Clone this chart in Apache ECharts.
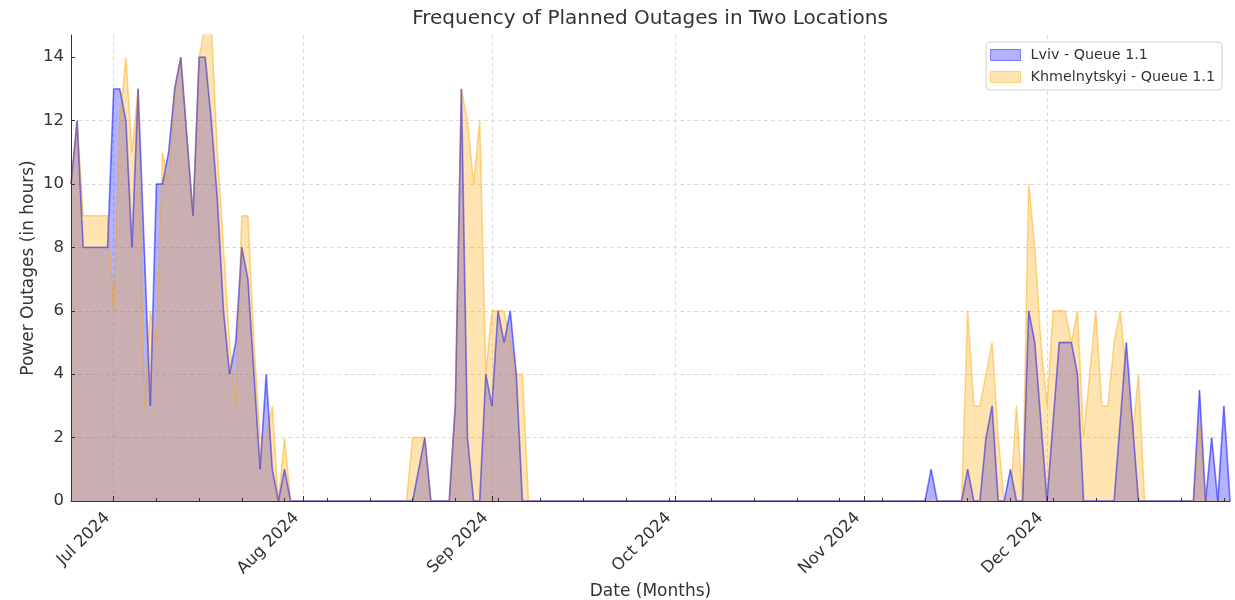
<!DOCTYPE html>
<html>
<head>
<meta charset="utf-8">
<title>Frequency of Planned Outages in Two Locations</title>
<script src="https://cdn.jsdelivr.net/npm/echarts@6/dist/echarts.min.js"></script>
<style>
  html, body { margin: 0; padding: 0; background: #ffffff; }
  #chart { width: 1235px; height: 600px; }
</style>
</head>
<body>
<div id="chart"></div>
<script>
// one value per day, first day is 2024-06-24, last is 2024-12-31
const startDay = [2024, 5, 24];

const lviv = [
  10, 12, 8, 8, 8, 8, 8, 13, 13, 12,
  8, 13, 8, 3, 10, 10, 11, 13, 14, 11.5,
  9, 14, 14, 12, 9.5, 6, 4, 5, 8, 7,
  4, 1, 4, 1, 0, 1, 0, 0, 0, 0,
  0, 0, 0, 0, 0, 0, 0, 0, 0, 0,
  0, 0, 0, 0, 0, 0, 0, 1, 2, 0,
  0, 0, 0, 3, 13, 2, 0, 0, 4, 3,
  6, 5, 6, 4, 0, 0, 0, 0, 0, 0,
  0, 0, 0, 0, 0, 0, 0, 0, 0, 0,
  0, 0, 0, 0, 0, 0, 0, 0, 0, 0,
  0, 0, 0, 0, 0, 0, 0, 0, 0, 0,
  0, 0, 0, 0, 0, 0, 0, 0, 0, 0,
  0, 0, 0, 0, 0, 0, 0, 0, 0, 0,
  0, 0, 0, 0, 0, 0, 0, 0, 0, 0,
  0, 1, 0, 0, 0, 0, 0, 1, 0, 0,
  2, 3, 0, 0, 1, 0, 0, 6, 5, 2.5,
  0, 2.5, 5, 5, 5, 4, 0, 0, 0, 0,
  0, 0, 2.5, 5, 2.5, 0, 0, 0, 0, 0,
  0, 0, 0, 0, 0, 3.5, 0, 2, 0, 3,
  0
];

const khmelnytskyi = [
  10, 12, 9, 9, 9, 9, 9, 6, 12, 14,
  11, 13, 3, 6, 5, 11, 10, 13, 14, 11.5,
  9, 14, 15, 15, 11, 8, 5, 3, 9, 9,
  5, 2, 2, 3, 0, 2, 0, 0, 0, 0,
  0, 0, 0, 0, 0, 0, 0, 0, 0, 0,
  0, 0, 0, 0, 0, 0, 2, 2, 2, 0,
  0, 0, 0, 3, 13, 12, 10, 12, 4, 6,
  6, 6, 5, 4, 4, 0, 0, 0, 0, 0,
  0, 0, 0, 0, 0, 0, 0, 0, 0, 0,
  0, 0, 0, 0, 0, 0, 0, 0, 0, 0,
  0, 0, 0, 0, 0, 0, 0, 0, 0, 0,
  0, 0, 0, 0, 0, 0, 0, 0, 0, 0,
  0, 0, 0, 0, 0, 0, 0, 0, 0, 0,
  0, 0, 0, 0, 0, 0, 0, 0, 0, 0,
  0, 0, 0, 0, 0, 0, 0, 6, 3, 3,
  4, 5, 2, 0, 0, 3, 0, 10, 8, 5,
  3, 6, 6, 6, 5, 6, 2, 4, 6, 3,
  3, 5, 6, 4, 2, 4, 0, 0, 0, 0,
  0, 0, 0, 0, 0, 2.5, 0, 0, 0, 0,
  0
];

const seriesNames = ['Lviv - Queue 1.1', 'Khmelnytskyi - Queue 1.1'];
const monthTicks = [[2024, 6, 1], [2024, 7, 1], [2024, 8, 1], [2024, 9, 1], [2024, 10, 1], [2024, 11, 1]];
const monthNames = ['Jan', 'Feb', 'Mar', 'Apr', 'May', 'Jun', 'Jul', 'Aug', 'Sep', 'Oct', 'Nov', 'Dec'];
const yTicks = [0, 2, 4, 6, 8, 10, 12, 14];
const yMax = 14.7;

const dayTs = i => new Date(startDay[0], startDay[1], startDay[2] + i).getTime();
const xMin = dayTs(0);
const xMax = dayTs(lviv.length - 1);
const monthTickValues = monthTicks.map(d => new Date(d[0], d[1], d[2]).getTime());
// minor ticks every monday
const weekTickValues = [];
for (let i = 0; i < lviv.length; i += 7) weekTickValues.push(dayTs(i));

const font = 'DejaVu Sans';
const textColor = '#333333';
const spine = '#333333';
const gridLine = { show: true, lineStyle: { color: '#dcdcdc', type: [4, 3], width: 1 } };

const chart = echarts.init(document.getElementById('chart'));

chart.setOption({
  animation: false,
  backgroundColor: '#ffffff',
  title: {
    text: 'Frequency of Planned Outages in Two Locations',
    left: 650,
    top: 9,
    padding: 0,
    textAlign: 'center',
    textStyle: { fontFamily: font, fontSize: 20, fontWeight: 'normal', color: textColor }
  },
  legend: {
    orient: 'vertical',
    right: 13,
    top: 42,
    padding: [6, 7, 6, 4],
    itemGap: 8,
    itemWidth: 30,
    itemHeight: 11,
    borderColor: '#d0d0d0',
    borderWidth: 1,
    borderRadius: 4,
    backgroundColor: 'rgba(255,255,255,0.8)',
    textStyle: { fontFamily: font, fontSize: 14.3, color: textColor, padding: [0, 0, 0, 5] },
    data: [
      { name: seriesNames[0], icon: 'rect', itemStyle: { color: 'rgba(0,0,255,0.3)', borderColor: 'rgba(0,0,255,0.45)', borderWidth: 1 } },
      { name: seriesNames[1], icon: 'rect', itemStyle: { color: 'rgba(255,165,0,0.3)', borderColor: 'rgba(255,165,0,0.45)', borderWidth: 1 } }
    ]
  },
  grid: { left: 71, right: 5, top: 35, bottom: 99, outerBoundsMode: 'none' },
  xAxis: [
    {
      // labels, month grid lines and name, under the fills
      type: 'value',
      position: 'bottom',
      min: xMin,
      max: xMax,
      name: 'Date (Months)',
      nameLocation: 'middle',
      nameGap: 82,
      nameMoveOverlap: false,
      nameTextStyle: { fontFamily: font, fontSize: 17, color: textColor },
      axisLine: { show: false, onZero: false },
      axisTick: { show: false, customValues: monthTickValues },
      axisLabel: {
        customValues: monthTickValues,
        rotate: 45,
        margin: 8,
        padding: [0, 9, 0, 0],
        fontFamily: font,
        fontSize: 16.5,
        color: textColor,
        formatter: v => {
          const d = new Date(v);
          return monthNames[d.getMonth()] + ' ' + d.getFullYear();
        }
      },
      splitLine: gridLine
    },
    {
      // spine and month ticks, above the fills
      type: 'value',
      position: 'bottom',
      min: xMin,
      max: xMax,
      z: 10,
      axisLine: { show: true, onZero: false, lineStyle: { color: spine, width: 1 } },
      axisTick: { show: true, inside: true, length: 5, customValues: monthTickValues, lineStyle: { color: spine } },
      axisLabel: { show: false },
      splitLine: { show: false }
    },
    {
      // weekly minor ticks
      type: 'value',
      position: 'bottom',
      min: xMin,
      max: xMax,
      z: 10,
      axisLine: { show: false, onZero: false },
      axisTick: { show: true, inside: true, length: 3, customValues: weekTickValues, lineStyle: { color: spine } },
      axisLabel: { show: false },
      splitLine: { show: false }
    }
  ],
  yAxis: [
    {
      type: 'value',
      position: 'left',
      min: 0,
      max: yMax,
      interval: 2,
      name: 'Power Outages (in hours)',
      nameLocation: 'middle',
      nameGap: 34,
      nameMoveOverlap: false,
      nameTextStyle: { fontFamily: font, fontSize: 17, color: textColor },
      axisLine: { show: false },
      axisTick: { show: false, customValues: yTicks },
      axisLabel: { customValues: yTicks, margin: 7, fontFamily: font, fontSize: 16.5, color: textColor },
      splitLine: { show: true, showMaxLine: false, lineStyle: gridLine.lineStyle }
    },
    {
      type: 'value',
      position: 'left',
      min: 0,
      max: yMax,
      interval: 2,
      z: 10,
      axisLine: { show: true, onZero: false, lineStyle: { color: spine, width: 1 } },
      axisTick: { show: true, inside: true, length: 4, customValues: yTicks, lineStyle: { color: spine } },
      axisLabel: { show: false },
      splitLine: { show: false }
    }
  ],
  series: [
    {
      name: seriesNames[0],
      type: 'line',
      data: lviv.map((v, i) => [dayTs(i), v]),
      showSymbol: false,
      symbol: 'none',
      lineStyle: { color: 'rgba(0,0,255,0.3)', width: 1 },
      itemStyle: { color: 'rgba(0,0,255,0.3)' },
      areaStyle: { color: 'rgba(0,0,255,0.3)', opacity: 1 },
      z: 2
    },
    {
      name: seriesNames[1],
      type: 'line',
      data: khmelnytskyi.map((v, i) => [dayTs(i), v]),
      showSymbol: false,
      symbol: 'none',
      lineStyle: { color: 'rgba(255,165,0,0.45)', width: 1.5 },
      itemStyle: { color: 'rgba(255,165,0,0.3)' },
      areaStyle: { color: 'rgba(255,165,0,0.3)', opacity: 1 },
      z: 3
    },
    {
      // lviv outline drawn again above the orange fill
      name: seriesNames[0],
      type: 'line',
      data: lviv.map((v, i) => [dayTs(i), v]),
      showSymbol: false,
      symbol: 'none',
      lineStyle: { color: 'rgba(0,0,255,0.35)', width: 1.8 },
      itemStyle: { color: 'rgba(0,0,255,0.3)' },
      z: 4
    }
  ]
});
</script>
</body>
</html>
